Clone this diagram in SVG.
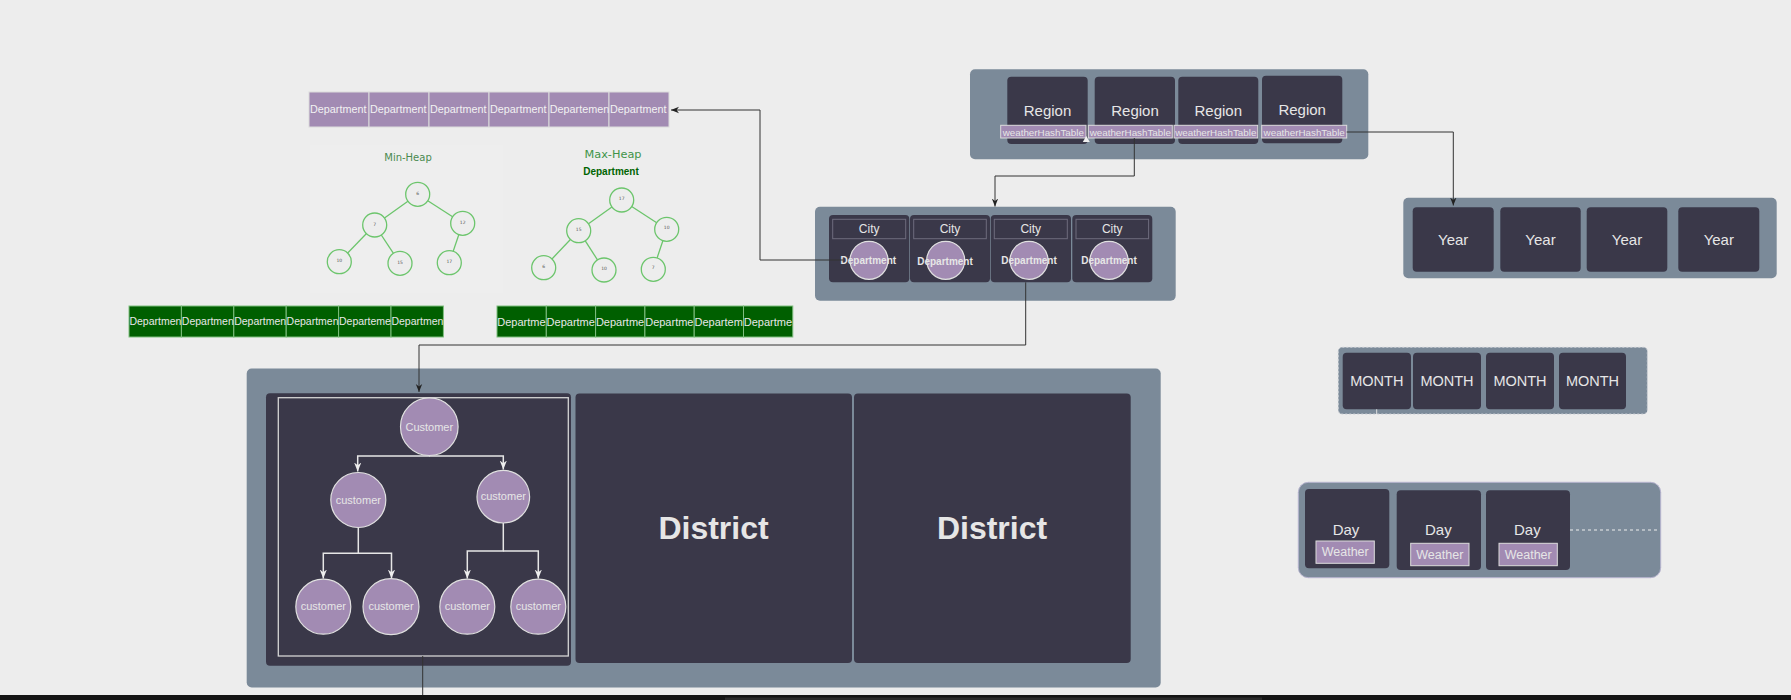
<svg xmlns="http://www.w3.org/2000/svg" width="1791" height="700" viewBox="0 0 1791 700">
<defs>
<style>
.bg{fill:#ededed}
.cont{fill:#7b8a99}
.dark{fill:#3a3849}
.pcell{fill:#a28bb3;stroke:#dcdcdc;stroke-width:1}
.gcell{fill:#005f00;stroke:#7fbf7f;stroke-width:1}
.atxt{font-family:"Liberation Sans",Arial,sans-serif;font-size:10.8px;fill:#f2f2f2}
.gtxt{font-family:"Liberation Sans",Arial,sans-serif;font-size:10.5px;fill:#e8e8e8}
.gtxt2{font-family:"Liberation Sans",Arial,sans-serif;font-size:11px;fill:#e8e8e8}
.lbl{font-family:"Liberation Sans",Arial,sans-serif;fill:#e6e6e6;text-anchor:middle;dominant-baseline:central}
.hn{fill:#ededed;stroke:#6cc56c;stroke-width:1.3}
.he{stroke:#6cc56c;stroke-width:1.3;fill:none}
.ht{font-family:"DejaVu Sans",Verdana,sans-serif;font-size:4.5px;fill:#555;text-anchor:middle;dominant-baseline:central}
.conn{fill:none;stroke:#333;stroke-width:1}
.tconn{fill:none;stroke:#e6e6e6;stroke-width:1.5}
.cust{fill:#a28bb3;stroke:#e0e0e0;stroke-width:1.2}
.wh{fill:#a28bb3;stroke:#dcdcdc;stroke-width:1}
</style>
<marker id="arr" viewBox="0 0 10 10" refX="10" refY="5" markerWidth="8" markerHeight="8" markerUnits="userSpaceOnUse" orient="auto">
<path d="M0,1 L10,5 L0,9 L3,5 z" fill="#222"/>
</marker>
<marker id="warr" viewBox="0 0 10 10" refX="10" refY="5" markerWidth="9" markerHeight="9" markerUnits="userSpaceOnUse" orient="auto">
<path d="M0,1 L10,5 L0,9 L3,5 z" fill="#eeeeee"/>
</marker>
</defs>

<rect class="bg" x="0" y="0" width="1791" height="700"/>

<!-- Top purple department array -->
<g id="deptArray">
<rect class="pcell" x="309" y="92" width="60" height="35"/>
<rect class="pcell" x="369" y="92" width="60" height="35"/>
<rect class="pcell" x="429" y="92" width="60" height="35"/>
<rect class="pcell" x="489" y="92" width="60" height="35"/>
<rect class="pcell" x="549" y="92" width="60" height="35"/>
<rect class="pcell" x="609" y="92" width="60" height="35"/>
<text class="atxt" x="310" y="113">Department</text>
<text class="atxt" x="370" y="113">Department</text>
<text class="atxt" x="430" y="113">Department</text>
<text class="atxt" x="490" y="113">Department</text>
<text class="atxt" x="549.8" y="113">Departemen</text>
<text class="atxt" x="610" y="113">Department</text>
</g>

<!-- Min-Heap -->
<g id="minHeap">
<rect x="310" y="145" width="193" height="148" fill="#eeeeee"/>
<text x="408" y="157" font-family="DejaVu Sans, Verdana, sans-serif" font-size="10px" fill="#4a8a50" text-anchor="middle" dominant-baseline="central">Min-Heap</text>
<line class="he" x1="417.7" y1="194.3" x2="374.7" y2="225"/>
<line class="he" x1="417.7" y1="194.3" x2="462.7" y2="223.3"/>
<line class="he" x1="374.7" y1="225" x2="339.3" y2="261.7"/>
<line class="he" x1="374.7" y1="225" x2="400" y2="263.3"/>
<line class="he" x1="462.7" y1="223.3" x2="449.3" y2="262.7"/>
<circle class="hn" cx="417.7" cy="194.3" r="12"/><text class="ht" x="417.7" y="193">6</text>
<circle class="hn" cx="374.7" cy="225" r="12"/><text class="ht" x="374.7" y="224">7</text>
<circle class="hn" cx="462.7" cy="223.3" r="12"/><text class="ht" x="462.7" y="222">12</text>
<circle class="hn" cx="339.3" cy="261.7" r="12"/><text class="ht" x="339.3" y="260">10</text>
<circle class="hn" cx="400" cy="263.3" r="12"/><text class="ht" x="400" y="262">15</text>
<circle class="hn" cx="449.3" cy="262.7" r="12"/><text class="ht" x="449.3" y="261">17</text>
</g>

<!-- Max-Heap -->
<g id="maxHeap">
<text x="613" y="154" font-family="DejaVu Sans, Verdana, sans-serif" font-size="11.3px" fill="#3f9448" text-anchor="middle" dominant-baseline="central">Max-Heap</text>
<text x="611" y="171" font-family="Liberation Sans, Arial, sans-serif" font-size="10px" font-weight="bold" fill="#006400" text-anchor="middle" dominant-baseline="central">Department</text>
<line class="he" x1="621.7" y1="200" x2="578.7" y2="230.7"/>
<line class="he" x1="621.7" y1="200" x2="666.7" y2="229.3"/>
<line class="he" x1="578.7" y1="230.7" x2="543.7" y2="267.7"/>
<line class="he" x1="578.7" y1="230.7" x2="604" y2="270"/>
<line class="he" x1="666.7" y1="229.3" x2="653.3" y2="269.3"/>
<circle class="hn" cx="621.7" cy="200" r="12"/><text class="ht" x="621.7" y="198.5">17</text>
<circle class="hn" cx="578.7" cy="230.7" r="12"/><text class="ht" x="578.7" y="229">15</text>
<circle class="hn" cx="666.7" cy="229.3" r="12"/><text class="ht" x="666.7" y="227.5">10</text>
<circle class="hn" cx="543.7" cy="267.7" r="12"/><text class="ht" x="543.7" y="266">6</text>
<circle class="hn" cx="604" cy="270" r="12"/><text class="ht" x="604" y="268">10</text>
<circle class="hn" cx="653.3" cy="269.3" r="12"/><text class="ht" x="653.3" y="267">7</text>
</g>

<!-- Green arrays -->
<g id="minHeapArray">
<rect class="gcell" x="129" y="306" width="52.4" height="31"/>
<rect class="gcell" x="181.4" y="306" width="52.4" height="31"/>
<rect class="gcell" x="233.8" y="306" width="52.4" height="31"/>
<rect class="gcell" x="286.2" y="306" width="52.4" height="31"/>
<rect class="gcell" x="338.6" y="306" width="52.4" height="31"/>
<rect class="gcell" x="391" y="306" width="52.4" height="31"/>
<text class="gtxt" x="129.4" y="325.3">Departmen</text>
<text class="gtxt" x="181.8" y="325.3">Departmen</text>
<text class="gtxt" x="234.2" y="325.3">Departmen</text>
<text class="gtxt" x="286.6" y="325.3">Departmen</text>
<text class="gtxt" x="339" y="325.3">Departeme</text>
<text class="gtxt" x="391.4" y="325.3">Departmen</text>
</g>
<g id="maxHeapArray">
<rect class="gcell" x="497" y="306" width="49.3" height="31"/>
<rect class="gcell" x="546.3" y="306" width="49.3" height="31"/>
<rect class="gcell" x="595.6" y="306" width="49.3" height="31"/>
<rect class="gcell" x="644.9" y="306" width="49.3" height="31"/>
<rect class="gcell" x="694.2" y="306" width="49.3" height="31"/>
<rect class="gcell" x="743.5" y="306" width="49.3" height="31"/>
<text class="gtxt2" x="497.3" y="325.5">Departme</text>
<text class="gtxt2" x="546.6" y="325.5">Departme</text>
<text class="gtxt2" x="595.9" y="325.5">Departme</text>
<text class="gtxt2" x="645.2" y="325.5">Departme</text>
<text class="gtxt2" x="694.5" y="325.5">Departem</text>
<text class="gtxt2" x="743.8" y="325.5">Departme</text>
</g>

<!-- Regions -->
<g id="regions">
<rect class="cont" x="970" y="69.3" width="398.3" height="90" rx="5"/>
<rect class="dark" x="1007.3" y="76.7" width="80.4" height="67.3" rx="4"/>
<rect class="dark" x="1094.7" y="76.7" width="80.3" height="67.3" rx="4"/>
<rect class="dark" x="1178.3" y="76.7" width="80" height="67.3" rx="4"/>
<rect class="dark" x="1262" y="75.7" width="80.3" height="67.6" rx="4"/>
<text class="lbl" x="1047.5" y="110" font-size="15px">Region</text>
<text class="lbl" x="1135" y="110" font-size="15px">Region</text>
<text class="lbl" x="1218.3" y="110" font-size="15px">Region</text>
<text class="lbl" x="1302.2" y="109" font-size="15px">Region</text>
<rect class="wh" x="1000.7" y="125.3" width="85.3" height="12.7"/>
<rect class="wh" x="1088.3" y="125.3" width="84" height="12.7"/>
<rect class="wh" x="1174" y="125.3" width="83.7" height="12.7"/>
<rect class="wh" x="1261.7" y="125.3" width="85" height="12.7"/>
<text class="lbl" x="1043.3" y="132" font-size="9.8px">weatherHashTable</text>
<text class="lbl" x="1130.3" y="132" font-size="9.8px">weatherHashTable</text>
<text class="lbl" x="1215.8" y="132" font-size="9.8px">weatherHashTable</text>
<text class="lbl" x="1304.2" y="132" font-size="9.8px">weatherHashTable</text>
<polygon points="1082.8,142 1089.8,142 1086.3,136" fill="#f0f0f0"/>
</g>

<!-- Cities -->
<g id="cities">
<rect class="cont" x="815" y="206.7" width="360.7" height="94" rx="5"/>
<rect class="dark" x="829" y="215" width="80.3" height="67.3" rx="4"/>
<rect class="dark" x="910" y="215" width="80" height="67.3" rx="4"/>
<rect class="dark" x="990.7" y="215" width="80.3" height="67.3" rx="4"/>
<rect class="dark" x="1072.3" y="215" width="80" height="67.3" rx="4"/>
<g fill="none" stroke="#6e6c7e" stroke-width="1">
<rect x="832.7" y="219.3" width="73" height="19.4"/>
<rect x="913.7" y="219.3" width="72.6" height="19.4"/>
<rect x="994.3" y="219.3" width="73" height="19.4"/>
<rect x="1076" y="219.3" width="72.6" height="19.4"/>
</g>
<text class="lbl" x="869.2" y="228.7" font-size="12px">City</text>
<text class="lbl" x="950" y="228.7" font-size="12px">City</text>
<text class="lbl" x="1030.8" y="228.7" font-size="12px">City</text>
<text class="lbl" x="1112.3" y="228.7" font-size="12px">City</text>
<circle class="cust" cx="869" cy="260.3" r="19" stroke="#b9a6c6"/>
<circle class="cust" cx="945.7" cy="260.3" r="19" stroke="#b9a6c6"/>
<circle class="cust" cx="1029" cy="260.3" r="19" stroke="#b9a6c6"/>
<circle class="cust" cx="1109" cy="260.3" r="19" stroke="#b9a6c6"/>
<text class="lbl" x="868.3" y="260" font-size="10px" font-weight="bold" fill="#f0f0f0">Department</text>
<text class="lbl" x="945" y="261" font-size="10px" font-weight="bold" fill="#f0f0f0">Department</text>
<text class="lbl" x="1029" y="260" font-size="10px" font-weight="bold" fill="#f0f0f0">Department</text>
<text class="lbl" x="1109" y="260" font-size="10px" font-weight="bold" fill="#f0f0f0">Department</text>
</g>

<!-- Years -->
<g id="years">
<rect class="cont" x="1403.3" y="197.7" width="373.4" height="80.6" rx="5"/>
<rect class="dark" x="1412.7" y="207.3" width="81" height="64.4" rx="4"/>
<rect class="dark" x="1500.3" y="207.3" width="80.4" height="64.4" rx="4"/>
<rect class="dark" x="1586.7" y="207.3" width="80.6" height="64.4" rx="4"/>
<rect class="dark" x="1678.3" y="207.3" width="81" height="64.4" rx="4"/>
<text class="lbl" x="1453.2" y="239" font-size="15px">Year</text>
<text class="lbl" x="1540.5" y="239" font-size="15px">Year</text>
<text class="lbl" x="1627" y="239" font-size="15px">Year</text>
<text class="lbl" x="1718.8" y="239" font-size="15px">Year</text>
</g>

<!-- Months -->
<g id="months">
<rect class="cont" x="1338.3" y="347.3" width="309" height="66.7" rx="4" stroke="#c8ccd2" stroke-width="1" stroke-dasharray="2 2"/>
<rect class="dark" x="1342.7" y="352.7" width="68.3" height="56.6" rx="4"/>
<rect class="dark" x="1413" y="352.7" width="68" height="56.6" rx="4"/>
<rect class="dark" x="1486" y="352.7" width="68" height="56.6" rx="4"/>
<rect class="dark" x="1559" y="352.7" width="67" height="56.6" rx="4"/>
<text class="lbl" x="1376.8" y="381" font-size="14.5px">MONTH</text>
<text class="lbl" x="1447" y="381" font-size="14.5px">MONTH</text>
<text class="lbl" x="1520" y="381" font-size="14.5px">MONTH</text>
<text class="lbl" x="1592.5" y="381" font-size="14.5px">MONTH</text>
<line x1="1376.7" y1="409.3" x2="1376.7" y2="414" stroke="#e0e0e0" stroke-width="1"/>
</g>

<!-- Days -->
<g id="days">
<rect class="cont" x="1298.3" y="482.3" width="362.4" height="95.4" rx="10" stroke="#b7b4cf" stroke-width="1"/>
<rect class="dark" x="1305" y="489" width="84.3" height="79.3" rx="4"/>
<rect class="dark" x="1396.7" y="490.3" width="84.3" height="79.7" rx="4"/>
<rect class="dark" x="1486" y="490.3" width="84" height="79.7" rx="4"/>
<text class="lbl" x="1346" y="529.5" font-size="15px">Day</text>
<text class="lbl" x="1438.3" y="529.5" font-size="15px">Day</text>
<text class="lbl" x="1527.3" y="529.5" font-size="15px">Day</text>
<rect class="wh" x="1316" y="541" width="58.3" height="22.3"/>
<rect class="wh" x="1410.7" y="543.3" width="58.3" height="22.4"/>
<rect class="wh" x="1499" y="543.3" width="58.3" height="22.4"/>
<text class="lbl" x="1345.2" y="552.2" font-size="12.5px">Weather</text>
<text class="lbl" x="1439.8" y="554.5" font-size="12.5px">Weather</text>
<text class="lbl" x="1528.2" y="554.5" font-size="12.5px">Weather</text>
<line x1="1570" y1="530" x2="1660" y2="530" stroke="#eeeeee" stroke-width="1" stroke-dasharray="3 3"/>
</g>

<!-- Districts -->
<g id="districts">
<rect class="cont" x="246.7" y="368.5" width="914" height="319" rx="5"/>
<rect class="dark" x="575.5" y="393.5" width="276.5" height="269.5" rx="4"/>
<rect class="dark" x="854" y="393.5" width="276.7" height="269.5" rx="4"/>
<text class="lbl" x="713.5" y="528" font-size="32px" font-weight="bold" fill="#eeeeee">District</text>
<text class="lbl" x="992" y="528" font-size="32px" font-weight="bold" fill="#eeeeee">District</text>
</g>

<!-- Customer tree district -->
<g id="customerDistrict">
<rect class="dark" x="266" y="393.3" width="305" height="272.4" rx="4"/>
<rect x="278.3" y="397.7" width="290" height="258.3" fill="none" stroke="#d4d4d4" stroke-width="1.3"/>
</g>

<g id="treeConnectors">
<path class="tconn" d="M429.3,455.5 V456 H357.7 V471.5" marker-end="url(#warr)"/>
<path class="tconn" d="M429.3,456 H503.3 V469.5" marker-end="url(#warr)"/>
<path class="tconn" d="M358.3,527.5 V553.3 H323.3 V578.5" marker-end="url(#warr)"/>
<path class="tconn" d="M358.3,553.3 H391.5 V578.5" marker-end="url(#warr)"/>
<path class="tconn" d="M503.3,523 V551 H467.3 V578.5" marker-end="url(#warr)"/>
<path class="tconn" d="M503.3,551 H538.3 V578.5" marker-end="url(#warr)"/>
</g>

<g id="custRoot"><circle class="cust" cx="429.3" cy="426.7" r="28.8"/><text class="lbl" x="429.3" y="426.5" font-size="11px" fill="#eeeeee">Customer</text></g>
<g id="custL"><circle class="cust" cx="358.3" cy="500" r="27.5"/><text class="lbl" x="358.3" y="499.5" font-size="11px" fill="#eeeeee">customer</text></g>
<g id="custR"><circle class="cust" cx="503.3" cy="496.7" r="26.3"/><text class="lbl" x="503.3" y="496" font-size="11px" fill="#eeeeee">customer</text></g>
<g id="custLL"><circle class="cust" cx="323.3" cy="606.7" r="27.5"/><text class="lbl" x="323.3" y="606" font-size="11px" fill="#eeeeee">customer</text></g>
<g id="custLR"><circle class="cust" cx="391" cy="606.7" r="28"/><text class="lbl" x="391" y="606" font-size="11px" fill="#eeeeee">customer</text></g>
<g id="custRL"><circle class="cust" cx="467.3" cy="606.7" r="27.5"/><text class="lbl" x="467.3" y="606" font-size="11px" fill="#eeeeee">customer</text></g>
<g id="custRR"><circle class="cust" cx="538.3" cy="606.7" r="27.5"/><text class="lbl" x="538.3" y="606" font-size="11px" fill="#eeeeee">customer</text></g>

<!-- Connectors -->
<g id="connectors">
<path class="conn" d="M843,260 H760 V110 H671" marker-end="url(#arr)"/>
<path class="conn" d="M1134.3,138 V176 H995 V206.5" marker-end="url(#arr)"/>
<path class="conn" d="M1346.7,132 H1453.3 V205.5" marker-end="url(#arr)"/>
<path class="conn" d="M1025.7,282.3 V345 H419 V392" marker-end="url(#arr)"/>
<path class="conn" d="M422.7,656 V700"/>
</g>

<!-- bottom bar -->
<rect x="0" y="695" width="1791" height="5" fill="#151515"/>
<rect x="725" y="697.5" width="537" height="2.5" fill="#2b2b2b"/>
</svg>
